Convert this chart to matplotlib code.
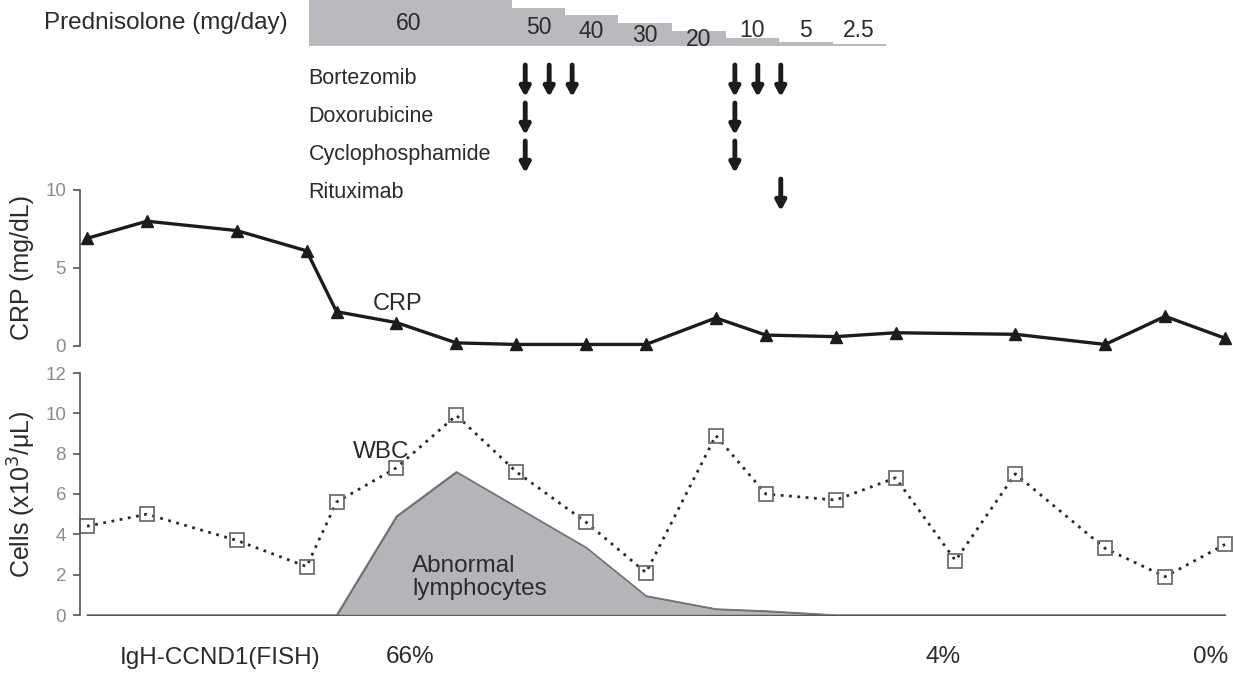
import numpy as np
import matplotlib
matplotlib.use("Agg")
import matplotlib.pyplot as plt

plt.rcParams['font.family'] = ['Liberation Sans', 'DejaVu Sans']

# 採血日 (day)
days = [0, 6, 15, 22, 25, 31, 37, 43, 50, 56, 63, 68, 75, 81, 87, 93, 102, 108, 114]
crp = [6.9, 8.0, 7.4, 6.1, 2.2, 1.5, 0.2, 0.1, 0.1, 0.1, 1.8, 0.7, 0.6, 0.85,
       np.nan, 0.75, 0.1, 1.9, 0.5]
wbc = [4.4, 5.0, 3.7, 2.4, 5.6, 7.3, 9.9, 7.1, 4.6, 2.1, 8.9, 6.0, 5.7, 6.8,
       2.7, 7.0, 3.3, 1.9, 3.5]

# abnormal lymphocytes
lymph_days = [0, 25, 31, 37, 50, 56, 63, 68, 75, 114]
lymph_vals = [0, 0, 4.9, 7.1, 3.35, 0.95, 0.3, 0.2, 0, 0]

# prednisolone taper
pred_start = [22.2, 42.6, 47.9, 53.2, 58.6, 64.0, 69.3, 74.7]
pred_end = 80.0
pred_dose = [60, 50, 40, 30, 20, 10, 5, 2.5]
pred_text = ["60", "50", "40", "30", "20", "10", "5", "2.5"]

# chemo
drugs = ["Bortezomib", "Doxorubicine", "Cyclophosphamide", "Rituximab"]
drug_days = [
    [43.9, 46.3, 48.6, 64.9, 67.2, 69.5],
    [43.9, 64.9],
    [43.9, 64.9],
    [69.5],
]

fish_days = [32.4, 85.8, 112.6]
fish_text = ["66%", "4%", "0%"]

W, H = 1234, 673
fig = plt.figure(figsize=(W / 100, H / 100), dpi=100)

def rect(x0, y0, x1, y1):
    # pixel box -> figure fraction
    return [x0 / W, 1 - y1 / H, (x1 - x0) / W, (y1 - y0) / H]

xlim = (-0.70, 114.5)
txt = '#2b2b2b'
tick_col = '#8c8c8c'

# ---- CRP ----
ax1 = fig.add_axes(rect(80, 190, 1230, 346))
d = np.array(days, dtype=float)
c = np.array(crp, dtype=float)
m = ~np.isnan(c)
ax1.plot(d[m], c[m], color='#1c1c1c', lw=2.4, marker='^', ms=8.5, clip_on=False)
ax1.set_xlim(*xlim)
ax1.set_ylim(0, 10)
ax1.set_yticks([0, 5, 10])
ax1.text(28.6, 2.3, "CRP", fontsize=17, color=txt)
ax1.set_ylabel("CRP (mg/dL)", fontsize=18, color=txt, labelpad=8)

# ---- WBC ----
ax2 = fig.add_axes(rect(80, 373, 1230, 615))
ax2.fill_between(lymph_days, lymph_vals, 0, facecolor='#b4b5b8',
                 edgecolor='#5a5a5a', lw=1.0)
ax2.plot(lymph_days, lymph_vals, color='#7a7a7a', lw=1.0)
ax2.plot(days, wbc, color='#2a2a2a', lw=2.0, ls=(0, (1, 2)), marker='s',
         ms=10, mfc='none', mec='#6e6e6e', mew=1.3, clip_on=False)
ax2.set_xlim(*xlim)
ax2.set_ylim(0, 12)
ax2.set_yticks(range(0, 13, 2))
ax2.text(26.6, 7.8, "WBC", fontsize=17.5, color=txt)
ax2.text(32.6, 3.0, "Abnormal\nlymphocytes", fontsize=17.5, color=txt,
         va='top', linespacing=1.1)
ax2.set_ylabel("Cells (x10$^3$/μL)", fontsize=18, color=txt, labelpad=5)

for ax in (ax1, ax2):
    for s in ('top', 'right', 'bottom'):
        ax.spines[s].set_visible(False)
    ax.spines['left'].set_color('#555555')
    ax.spines['left'].set_linewidth(1.2)
    ax.tick_params(axis='y', colors='#555555', labelcolor=tick_col,
                   labelsize=13.5, length=5, width=1.2, pad=5)
    ax.set_xticks([])

# FISH row
for x, s in zip(fish_days, fish_text):
    ax2.text(x, -2.1, s, fontsize=17.5, color=txt, ha='center', va='center')
fig.text(120 / W, 1 - 658 / H, "IgH-CCND1(FISH)", fontsize=17.5, color=txt,
         va='center', ha='left')

# ---- prednisolone ----
ax3 = fig.add_axes(rect(80, 0, 1230, 46))
widths = np.diff(pred_start + [pred_end])
ax3.bar(pred_start, pred_dose, width=widths, align='edge', color='#b9babd',
        edgecolor='none')
ax3.set_xlim(*xlim)
ax3.set_ylim(0, 60)
ax3.axis('off')
lab_y = [30, 24, 19, 14, 8, 20, 20, 20]
for x0, w, t, yy in zip(pred_start, widths, pred_text, lab_y):
    xc = x0 + w / 2 if t != "60" else x0 + 10
    ax3.text(xc, yy, t, fontsize=16.5, color=txt, ha='center', va='center')
fig.text(288 / W, 1 - 23 / H, "Prednisolone (mg/day)", fontsize=17.5,
         color=txt, ha='right', va='center')

# ---- chemo arrows ----
ax4 = fig.add_axes(rect(80, 62, 1230, 214))
ax4.set_xlim(*xlim)
ax4.set_ylim(3.5, -0.5)
ax4.axis('off')
for i, (name, dd) in enumerate(zip(drugs, drug_days)):
    ax4.text(pred_start[0], i - 0.07, name, fontsize=15.5, color=txt,
             ha='left', va='center')
    for x in dd:
        ax4.annotate("", xy=(x, i + 0.42), xytext=(x, i - 0.42),
                     arrowprops=dict(arrowstyle='-|>,head_width=0.3,head_length=0.55',
                                     lw=3.5, color='#1c1c1c',
                                     shrinkA=0, shrinkB=0))

fig.savefig("out.png", dpi=100)
